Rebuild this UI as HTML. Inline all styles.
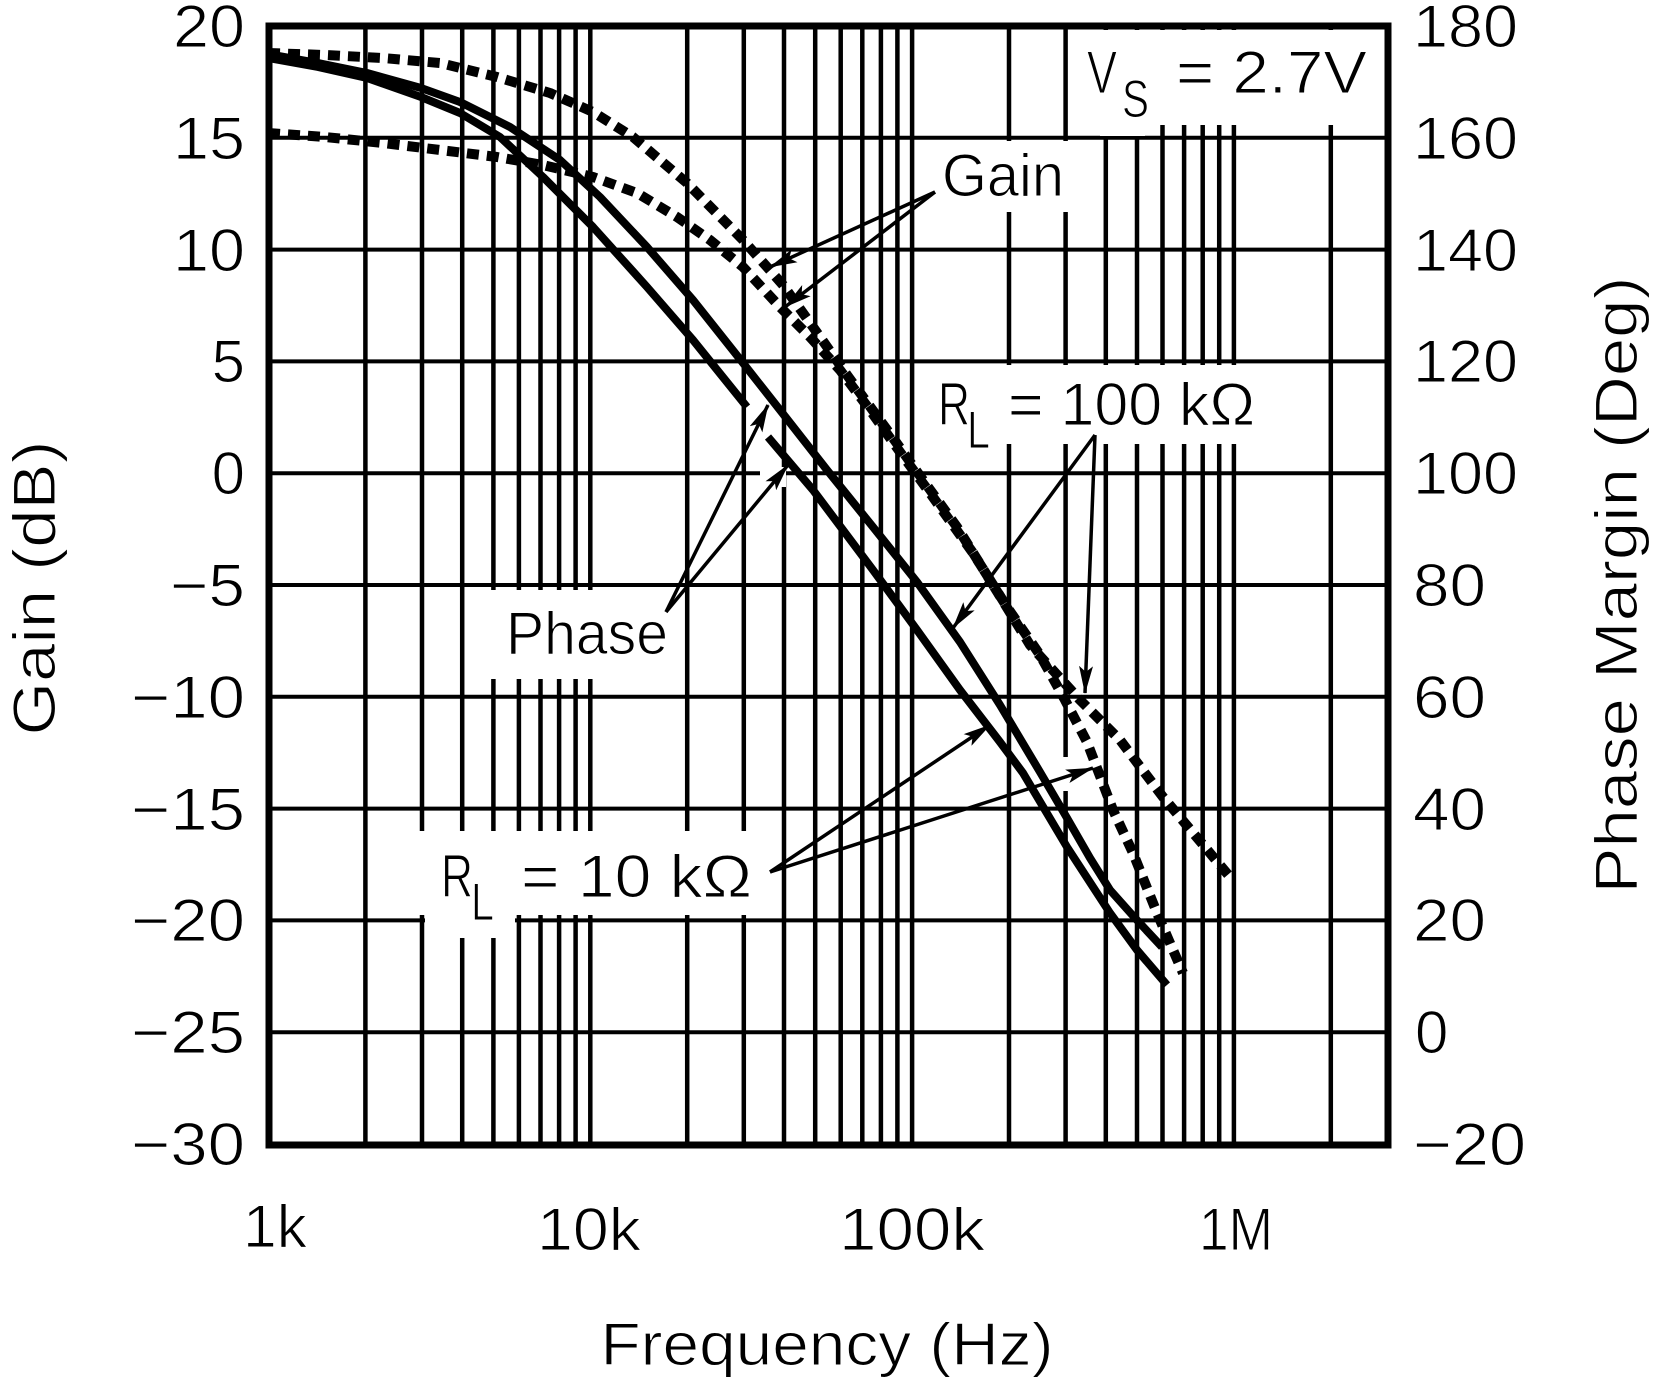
<!DOCTYPE html>
<html><head><meta charset="utf-8"><style>
html,body{margin:0;padding:0;background:#fff;}
svg{display:block;}
text{font-family:"Liberation Sans",Arial,sans-serif;fill:#000;stroke:#fff;stroke-width:1.1px;}
</style></head><body>
<svg width="1653" height="1380" viewBox="0 0 1653 1380" xmlns="http://www.w3.org/2000/svg">
<defs>
<marker id="ah" markerUnits="userSpaceOnUse" markerWidth="28" markerHeight="14" refX="27" refY="7" orient="auto" viewBox="0 0 28 14"><path d="M0,0 L28,7 L0,14 L6,7 z" fill="#000"/></marker>
</defs>
<rect width="1653" height="1380" fill="#fff"/>
<g stroke="#000" stroke-width="4.5">
<line x1="365.4" y1="26" x2="365.4" y2="1145"/><line x1="422" y1="26" x2="422" y2="1145"/><line x1="462.2" y1="26" x2="462.2" y2="1145"/><line x1="493.4" y1="26" x2="493.4" y2="1145"/><line x1="518.9" y1="26" x2="518.9" y2="1145"/><line x1="540.5" y1="26" x2="540.5" y2="1145"/><line x1="559.1" y1="26" x2="559.1" y2="1145"/><line x1="575.6" y1="26" x2="575.6" y2="1145"/><line x1="590.3" y1="26" x2="590.3" y2="1145"/>
<line x1="687.2" y1="26" x2="687.2" y2="1145"/><line x1="743.8" y1="26" x2="743.8" y2="1145"/><line x1="784" y1="26" x2="784" y2="1145"/><line x1="815.2" y1="26" x2="815.2" y2="1145"/><line x1="840.7" y1="26" x2="840.7" y2="1145"/><line x1="862.3" y1="26" x2="862.3" y2="1145"/><line x1="880.9" y1="26" x2="880.9" y2="1145"/><line x1="897.4" y1="26" x2="897.4" y2="1145"/><line x1="912.1" y1="26" x2="912.1" y2="1145"/>
<line x1="1009" y1="26" x2="1009" y2="1145"/><line x1="1065.6" y1="26" x2="1065.6" y2="1145"/><line x1="1105.8" y1="26" x2="1105.8" y2="1145"/><line x1="1137" y1="26" x2="1137" y2="1145"/><line x1="1162.5" y1="26" x2="1162.5" y2="1145"/><line x1="1184.1" y1="26" x2="1184.1" y2="1145"/><line x1="1202.7" y1="26" x2="1202.7" y2="1145"/><line x1="1219.2" y1="26" x2="1219.2" y2="1145"/><line x1="1233.9" y1="26" x2="1233.9" y2="1145"/><line x1="1330.8" y1="26" x2="1330.8" y2="1145"/>
</g>
<g stroke="#000" stroke-width="4">
<line x1="269" y1="137.8" x2="1388" y2="137.8"/><line x1="269" y1="249.6" x2="1388" y2="249.6"/><line x1="269" y1="361.4" x2="1388" y2="361.4"/><line x1="269" y1="473.2" x2="1388" y2="473.2"/><line x1="269" y1="585" x2="1388" y2="585"/><line x1="269" y1="696.8" x2="1388" y2="696.8"/><line x1="269" y1="808.6" x2="1388" y2="808.6"/><line x1="269" y1="920.4" x2="1388" y2="920.4"/><line x1="269" y1="1032.2" x2="1388" y2="1032.2"/>
</g>
<g fill="#fff">
<rect x="1072" y="30" width="312" height="95"/>
<rect x="1100" y="30" width="45" height="106"/>
<rect x="917" y="141" width="183" height="71"/>
<rect x="917" y="365" width="408" height="79"/>
<rect x="467" y="590" width="215" height="89"/>
<rect x="410" y="831" width="364" height="84"/>
<rect x="425" y="831" width="90" height="107"/>
<rect x="760" y="467" width="26" height="20"/>
<rect x="1062" y="757" width="8" height="34"/>
</g>
<rect x="269" y="26" width="1119" height="1119" fill="none" stroke="#000" stroke-width="7"/>
<g fill="none" stroke="#000" stroke-linejoin="round">
<polyline stroke-width="10" stroke-dasharray="12 8" points="268,53 325,55 383,58 440,63 497,77 550,93 593,112 633,137 687,183 743,240 783,285 813,327 847,375 893,438 923,480 957,527 990,580 1030,645 1080,700 1120,740 1163,797 1230,877"/>
<polyline stroke-width="10" stroke-dasharray="12 8" points="268,133 325,137 383,143 440,150 497,157 543,165 593,177 637,193 677,217 710,240 743,267 780,307 810,337 840,370 870,410 900,452 930,493 973,553 1007,607 1040,655 1065,700 1087,742 1113,810 1133,853 1157,913 1183,973"/>
<polyline stroke-width="8" points="268,54 318,63 367,73 421,88 460,102 510,127 560,160 600,197 647,247 693,300 743,363 780,410 827,470 873,527 917,582 960,642 1000,705 1040,772 1067,818 1090,858 1110,890 1135,918 1162,947"/>
<polyline stroke-width="8" points="268,58 318,67 367,78 421,97 460,113 500,137 543,177 593,227 647,287 693,340 747,407"/>
<polyline stroke-width="8" points="768,437 813,490 873,570 917,630 960,690 1000,742 1023,773 1067,847 1110,913 1137,950 1167,985"/>
</g>
<g stroke="#000" stroke-width="3.5" marker-end="url(#ah)">
<line x1="935" y1="192" x2="770" y2="267"/>
<line x1="935" y1="192" x2="785" y2="307"/>
<line x1="666" y1="612" x2="768" y2="405"/>
<line x1="666" y1="612" x2="788" y2="465"/>
<line x1="1095" y1="435" x2="953" y2="628"/>
<line x1="1095" y1="435" x2="1085" y2="693"/>
<line x1="770" y1="872" x2="990" y2="725"/>
<line x1="770" y1="872" x2="1093" y2="768"/>
</g>
<g font-size="60" text-anchor="end">
<text x="245" y="47" textLength="72" lengthAdjust="spacingAndGlyphs">20</text>
<text x="245" y="159" textLength="72" lengthAdjust="spacingAndGlyphs">15</text>
<text x="245" y="271" textLength="72" lengthAdjust="spacingAndGlyphs">10</text>
<text x="245" y="382">5</text>
<text x="245" y="494">0</text>
<text x="245" y="606" textLength="75" lengthAdjust="spacingAndGlyphs">−5</text>
<text x="245" y="718" textLength="114" lengthAdjust="spacingAndGlyphs">−10</text>
<text x="245" y="830" textLength="114" lengthAdjust="spacingAndGlyphs">−15</text>
<text x="245" y="941" textLength="114" lengthAdjust="spacingAndGlyphs">−20</text>
<text x="245" y="1053" textLength="114" lengthAdjust="spacingAndGlyphs">−25</text>
<text x="245" y="1165" textLength="114" lengthAdjust="spacingAndGlyphs">−30</text>
</g>
<g font-size="60">
<text x="1413" y="47" textLength="105" lengthAdjust="spacingAndGlyphs">180</text>
<text x="1413" y="159" textLength="105" lengthAdjust="spacingAndGlyphs">160</text>
<text x="1413" y="271" textLength="105" lengthAdjust="spacingAndGlyphs">140</text>
<text x="1413" y="382" textLength="105" lengthAdjust="spacingAndGlyphs">120</text>
<text x="1413" y="494" textLength="105" lengthAdjust="spacingAndGlyphs">100</text>
<text x="1413" y="606" textLength="73" lengthAdjust="spacingAndGlyphs">80</text>
<text x="1413" y="718" textLength="73" lengthAdjust="spacingAndGlyphs">60</text>
<text x="1413" y="830" textLength="73" lengthAdjust="spacingAndGlyphs">40</text>
<text x="1413" y="941" textLength="73" lengthAdjust="spacingAndGlyphs">20</text>
<text x="1415" y="1053">0</text>
<text x="1413" y="1165" textLength="113" lengthAdjust="spacingAndGlyphs">−20</text>
</g>
<g font-size="60" text-anchor="middle">
<text x="275" y="1247" textLength="64" lengthAdjust="spacingAndGlyphs">1k</text>
<text x="589" y="1250" textLength="104" lengthAdjust="spacingAndGlyphs">10k</text>
<text x="912" y="1250" textLength="146" lengthAdjust="spacingAndGlyphs">100k</text>
<text x="1236" y="1250" textLength="74" lengthAdjust="spacingAndGlyphs">1M</text>
<text x="827" y="1365" textLength="453" lengthAdjust="spacingAndGlyphs">Frequency (Hz)</text>
<text transform="translate(55,588) rotate(-90)" textLength="295" lengthAdjust="spacingAndGlyphs">Gain (dB)</text>
<text transform="translate(1637,585) rotate(-90)" textLength="617" lengthAdjust="spacingAndGlyphs">Phase Margin (Deg)</text>
</g>
<g font-size="60">
<text x="1087" y="93" textLength="30" lengthAdjust="spacingAndGlyphs">V</text>
<text x="1122" y="117" font-size="53" textLength="27" lengthAdjust="spacingAndGlyphs">S</text>
<text x="1176" y="93" textLength="191" lengthAdjust="spacingAndGlyphs">= 2.7V</text>
<text x="942" y="196" textLength="122" lengthAdjust="spacingAndGlyphs">Gain</text>
<text x="938" y="425" textLength="32" lengthAdjust="spacingAndGlyphs">R</text>
<text x="967" y="448" font-size="53" textLength="23" lengthAdjust="spacingAndGlyphs">L</text>
<text x="1008" y="425" textLength="247" lengthAdjust="spacingAndGlyphs">= 100 kΩ</text>
<text x="506" y="654" textLength="162" lengthAdjust="spacingAndGlyphs">Phase</text>
<text x="441" y="897" textLength="32" lengthAdjust="spacingAndGlyphs">R</text>
<text x="471" y="920" font-size="53" textLength="23" lengthAdjust="spacingAndGlyphs">L</text>
<text x="521" y="897" textLength="231" lengthAdjust="spacingAndGlyphs">= 10 kΩ</text>
</g>
</svg>
</body></html>
